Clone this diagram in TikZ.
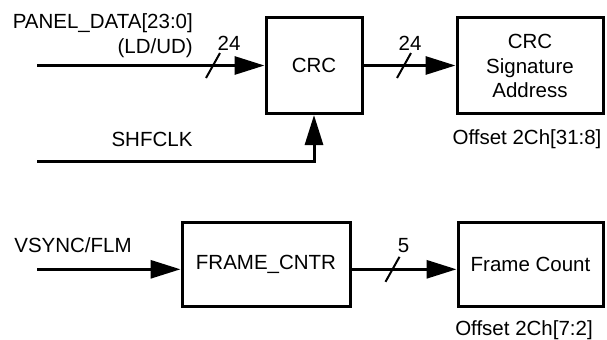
\documentclass[tikz,border=0pt]{standalone}
\usepackage{fontspec}
\setmainfont{Liberation Sans}
\usetikzlibrary{arrows.meta}
\begin{document}
\begin{tikzpicture}[x=1bp,y=-1bp,
  every node/.style={font=\fontsize{20.5bp}{24bp}\selectfont, inner sep=0pt},
  blk/.style={draw, line width=3bp, align=center},
  sig/.style={line width=3bp},
  arr/.style={sig, -{Triangle[length=30bp,width=18bp]}},
  busmark/.style={line width=2bp}]
\useasboundingbox (0,0) rectangle (607,339);
% boxes
\node[blk, minimum width=96bp, minimum height=96bp] (crc) at (314,65.5) {CRC};
\node[blk, minimum width=146bp, minimum height=96bp] (sigaddr) at (530,65.5) {CRC\\[1bp]Signature\\[0bp]Address};
\node[blk, minimum width=168bp, minimum height=84bp] (fcntr) at (266,264) {\raisebox{-3bp}{FRAME\_CNTR}};
\node[blk, minimum width=145bp, minimum height=84bp] (fcount) at (530.5,264) {\raisebox{-3bp}{Frame Count}};
% free ends
\coordinate (pin) at (37,65.5);
\coordinate (clkin) at (37,161.7);
\coordinate (vin) at (37,269.3);
% connectors
\draw[arr] (pin) -- (crc.west);
\draw[arr] (clkin) -| (crc.south);
\draw[arr] (crc.east) -- (sigaddr.west);
\draw[arr] (vin) -- (fcntr.west |- vin);
\draw[arr] (fcntr.east |- vin) -- (fcount.west |- vin);
% bus slashes
\coordinate (s1) at (213,65.5);
\coordinate (s2) at (404,65.5);
\coordinate (s3) at (392.5,269.3);
\foreach \s in {s1,s2,s3}
  \draw[busmark] ([shift={(-7,12.5)}]\s) -- ([shift={(7,-12.5)}]\s);
% labels
\node[anchor=east] (l1) at (193,23.5) {PANEL\_DATA[23:0]};
\node[anchor=east] (l2) at (193,48.5) {(LD/UD)};
\node (w1) at (229,43) {24};
\node (w2) at (410,43) {24};
\node (w3) at (403.5,246) {5};
\node (clk) at (152,139.5) {SHFCLK};
\node (vs) at (73,245.5) {VSYNC/FLM};
\node (o1) at (527,139.5) {Offset 2Ch[31:8]};
\node (o2) at (524,330) {Offset 2Ch[7:2]};
\end{tikzpicture}
\end{document}
